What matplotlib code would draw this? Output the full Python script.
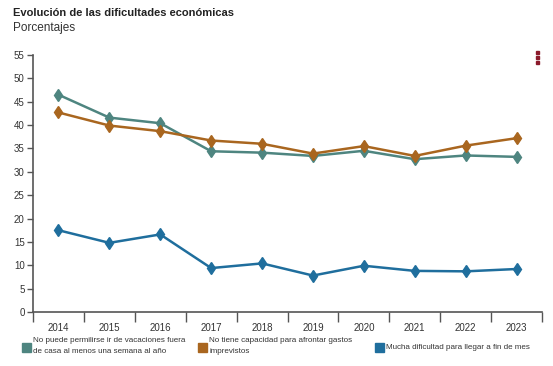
import matplotlib
matplotlib.use("Agg")
import matplotlib.pyplot as plt
import numpy as np
from matplotlib.patches import Rectangle

plt.rcParams["font.family"] = ["Liberation Sans", "DejaVu Sans"]

# datos
anios = ["2014", "2015", "2016", "2017", "2018", "2019", "2020", "2021", "2022", "2023"]
vacaciones = [46.5, 41.6, 40.4, 34.4, 34.1, 33.4, 34.5, 32.7, 33.5, 33.2]
imprevistos = [42.7, 39.9, 38.7, 36.7, 36.0, 33.9, 35.5, 33.4, 35.6, 37.2]
fin_de_mes = [17.5, 14.8, 16.6, 9.4, 10.4, 7.8, 9.9, 8.8, 8.7, 9.2]

series = [
    ("No puede permilirse ir de vacaciones fuera\nde casa al menos una semana al año", vacaciones, "#4e8580"),
    ("No tiene capacidad para afrontar gastos\nimprevistos", imprevistos, "#a9661f"),
    ("Mucha dificultad para llegar a fin de mes", fin_de_mes, "#1f6e9d"),
]

W, H = 553, 366
fig = plt.figure(figsize=(W / 100, H / 100), dpi=100)
ax = fig.add_axes([33 / W, 1 - 312 / H, (542 - 33) / W, (312 - 55) / H])

x = np.arange(len(anios))
for nombre, vals, color in series:
    ax.plot(x, vals, color=color, lw=1.8, marker="d", ms=6, mec=color, mfc=color, zorder=3)

ax.set_xlim(-0.5, len(anios) - 0.5)
ax.set_ylim(0, 55)
ax.set_yticks(range(0, 56, 5))
ax.set_xticks(x)
ax.set_xticklabels(anios)
ax.set_xticks(np.arange(-0.5, len(anios), 1), minor=True)
ax.tick_params(axis="x", which="major", length=0, pad=8, labelsize=7, labelcolor="#333333")
ax.tick_params(axis="x", which="minor", length=7, width=1, color="#555555")
ax.tick_params(axis="y", length=4, width=1, color="#555555", labelsize=7, labelcolor="#333333", pad=2)

for s in ["top", "right"]:
    ax.spines[s].set_visible(False)
for s in ["left", "bottom"]:
    ax.spines[s].set_color("#555555")
    ax.spines[s].set_linewidth(1.2)

# titulos
fig.text(13 / W, 1 - 13 / H, "Evolución de las dificultades económicas", fontsize=8,
         fontweight="bold", color="#222222", va="center", ha="left")
fig.text(13 / W, 1 - 28 / H, "Porcentajes", fontsize=8.5, color="#333333", va="center", ha="left")

# menu
for dy in (52, 57, 62):
    fig.patches.append(Rectangle(((536) / W, 1 - (dy + 1.5) / H), 3 / W, 3 / H,
                                 transform=fig.transFigure, color="#8b1a2b"))

# leyenda
leg_x = [22, 198, 375]
for (nombre, vals, color), lx in zip(series, leg_x):
    fig.patches.append(Rectangle((lx / W, 1 - 352 / H), 9 / W, 9 / H,
                                 transform=fig.transFigure, color=color))
    if "\n" in nombre:
        fig.text((lx + 11) / W, 1 - 337.5 / H, nombre, fontsize=5.8, color="#333333",
                 va="top", ha="left", linespacing=1.7)
    else:
        fig.text((lx + 11) / W, 1 - 347.5 / H, nombre, fontsize=5.8, color="#333333",
                 va="center", ha="left")

fig.savefig("out.png", dpi=100)
